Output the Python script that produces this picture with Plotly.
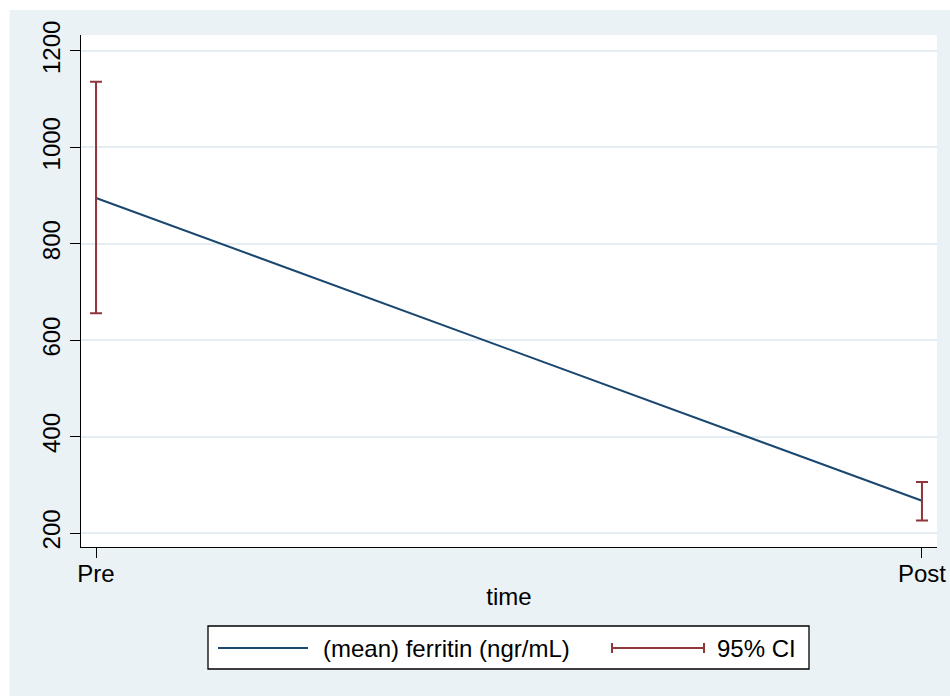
import plotly.graph_objects as go

# ---- data ----
time_labels = ["Pre", "Post"]
mean_ferritin = [895, 267]
ci_lower = [656, 226]
ci_upper = [1136, 306]
y_ticks = [200, 400, 600, 800, 1000, 1200]

NAVY = "#1a476f"
MAROON = "#90353b"
BG = "#EAF2F5"
GRID = "#E4EEF2"
FONT = "Liberation Sans, Arial, sans-serif"
FS = 24

W, H = 950, 696
L, R, T, B = 81, 13, 35, 149
PW = W - L - R
PH = H - T - B


def px(xp):
    return (xp - L) / PW


def py(yp):
    return (H - B - yp) / PH


err_plus = [u - m for u, m in zip(ci_upper, mean_ferritin)]
err_minus = [m - l for m, l in zip(mean_ferritin, ci_lower)]

fig = go.Figure()
fig.add_trace(go.Scatter(
    x=time_labels, y=mean_ferritin, mode="lines",
    line=dict(color=NAVY, width=2),
    name="(mean) ferritin (ngr/mL)", showlegend=False,
))
fig.add_trace(go.Scatter(
    x=time_labels, y=mean_ferritin, mode="markers",
    marker=dict(size=0.1, color="rgba(0,0,0,0)"),
    error_y=dict(type="data", symmetric=False, array=err_plus,
                 arrayminus=err_minus, color=MAROON, thickness=2, width=6),
    name="95% CI", showlegend=False,
))

shapes = [
    # white outer margins (top and left)
    dict(type="rect", xref="paper", yref="paper", x0=px(-5), x1=px(9.5),
         y0=py(H + 5), y1=py(-5), fillcolor="white", line=dict(width=0), layer="above"),
    dict(type="rect", xref="paper", yref="paper", x0=px(-5), x1=px(W + 5),
         y0=py(10), y1=py(-5), fillcolor="white", line=dict(width=0), layer="above"),
    # legend box
    dict(type="rect", xref="paper", yref="paper", x0=px(208), x1=px(809),
         y0=py(669), y1=py(626), fillcolor="white", line=dict(color="black", width=1.3)),
    # legend line sample
    dict(type="line", xref="paper", yref="paper", x0=px(218), x1=px(308),
         y0=py(648), y1=py(648), line=dict(color=NAVY, width=2)),
    # legend CI sample
    dict(type="line", xref="paper", yref="paper", x0=px(612), x1=px(704),
         y0=py(648), y1=py(648), line=dict(color=MAROON, width=2)),
    dict(type="line", xref="paper", yref="paper", x0=px(612), x1=px(612),
         y0=py(643), y1=py(653), line=dict(color=MAROON, width=2)),
    dict(type="line", xref="paper", yref="paper", x0=px(704), x1=px(704),
         y0=py(643), y1=py(653), line=dict(color=MAROON, width=2)),
]

annotations = [
    dict(text="(mean) ferritin (ngr/mL)", xref="paper", yref="paper",
         x=px(321), y=py(648), xanchor="left", yanchor="middle", showarrow=False,
         font=dict(family=FONT, size=FS, color="black")),
    dict(text="95% CI", xref="paper", yref="paper",
         x=px(715), y=py(648), xanchor="left", yanchor="middle", showarrow=False,
         font=dict(family=FONT, size=FS, color="black")),
]

fig.update_layout(
    width=W, height=H,
    margin=dict(l=L, r=R, t=T, b=B, pad=0, autoexpand=False),
    paper_bgcolor=BG, plot_bgcolor="white",
    font=dict(family=FONT, size=FS, color="black"),
    shapes=shapes, annotations=annotations,
    showlegend=False,
)
fig.update_xaxes(
    type="category", range=[-0.0182, 1.0182], automargin=False,
    showgrid=False, zeroline=False,
    showline=True, linecolor="black", linewidth=1.3,
    ticks="outside", ticklen=10, tickwidth=1.3, tickcolor="black",
    ticklabelstandoff=-5,
    tickfont=dict(family=FONT, size=FS, color="black"),
    title=dict(text="time", standoff=2, font=dict(family=FONT, size=FS, color="black")),
)
fig.update_yaxes(
    range=[171, 1233], tickvals=y_ticks, automargin=False,
    showgrid=True, gridcolor=GRID, gridwidth=2, zeroline=False,
    showline=True, linecolor="black", linewidth=1.3,
    ticks="outside", ticklen=10, tickwidth=1.3, tickcolor="black",
    tickangle=-90,
    tickfont=dict(family=FONT, size=FS, color="black"),
)

fig.write_html(
    "out.html",
    config={"displayModeBar": False},
    post_script="document.body.style.margin='0';document.body.style.padding='0';document.body.style.overflow='hidden';",
)
